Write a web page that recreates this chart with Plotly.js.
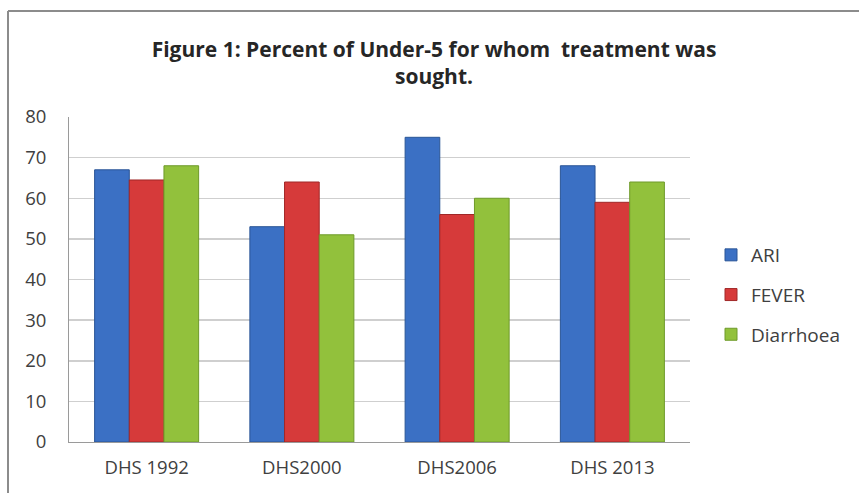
<!DOCTYPE html>
<html>
<head>
<meta charset="utf-8">
<script src="https://cdn.plot.ly/plotly-3.0.1.min.js"></script>
<style>
html,body{margin:0;padding:0;background:#fff;}
#chart{width:859px;height:493px;}
</style>
</head>
<body>
<div id="chart"></div>
<script>
const categories = ["DHS 1992", "DHS2000", "DHS2006", "DHS 2013"];
const ari = [67, 53, 75, 68];
const fever = [64.5, 64, 56, 59];
const diarrhoea = [68, 51, 60, 64];
const seriesNames = ["ARI", "FEVER", "Diarrhoea"];
const yTicks = [0, 10, 20, 30, 40, 50, 60, 70, 80];

const colors = ["#3B70C4", "#D63A3A", "#92C13C"];
const lines = ["#2A5596", "#A02828", "#6E9A2A"];
const values = [ari, fever, diarrhoea];

const traces = values.map((v, i) => ({
  type: "bar",
  name: seriesNames[i],
  x: categories,
  y: v,
  legendgroup: "g" + i,
  marker: {color: colors[i], line: {color: lines[i], width: 1}},
  hoverinfo: "x+y+name"
}));

const L = 69, R = 690, T = 117, B = 442;
const W = 859, H = 493;
const px2x = p => (p - L) / (R - L);
const py2y = p => (B - p) / (B - T);
const FONT = "'Open Sans', Lato, sans-serif";

const layout = {
  width: W, height: H,
  margin: {l: L, r: W - R, t: T, b: H - B, pad: 0},
  paper_bgcolor: "#ffffff",
  plot_bgcolor: "#ffffff",
  font: {family: FONT, color: "#404040", size: 18},
  title: {
    text: "<b>Figure 1: Percent of Under-5 for whom  treatment was<br>sought.</b>",
    x: 434 / W, xanchor: "center",
    y: 1 - 57 / H, yanchor: "middle",
    font: {family: FONT, size: 21, color: "#262626"}
  },
  barmode: "group",
  bargap: 0.33,
  bargroupgap: 0,
  xaxis: {
    type: "category",
    showgrid: false,
    showline: true, linecolor: "#9a9a9a", linewidth: 1,
    ticks: "", ticklabelstandoff: 9,
    tickfont: {family: FONT, size: 18.5, color: "#404040"}
  },
  yaxis: {
    range: [0, 80],
    tickvals: yTicks,
    ticktext: yTicks.map(String),
    showgrid: true, gridcolor: "#cfcfcf", gridwidth: 1.5,
    showline: true, linecolor: "#9a9a9a", linewidth: 1,
    zeroline: false,
    ticks: "", ticklabelstandoff: 18,
    tickfont: {family: FONT, size: 18.5, color: "#404040"}
  },
  legend: {
    x: px2x(711), xanchor: "left",
    y: py2y(236), yanchor: "top",
    tracegroupgap: 12,
    font: {family: FONT, size: 19, color: "#404040"},
    bgcolor: "rgba(0,0,0,0)"
  },
  shapes: [
    {type: "line", xref: "paper", yref: "paper", x0: px2x(8), x1: px2x(870), y0: py2y(11), y1: py2y(11), line: {color: "#8c8c8c", width: 2}},
    {type: "line", xref: "paper", yref: "paper", x0: px2x(8), x1: px2x(8), y0: py2y(11), y1: py2y(500), line: {color: "#8c8c8c", width: 2}}
  ],
  showlegend: true
};

Plotly.newPlot("chart", traces, layout, {displayModeBar: false, staticPlot: true});
</script>
</body>
</html>
